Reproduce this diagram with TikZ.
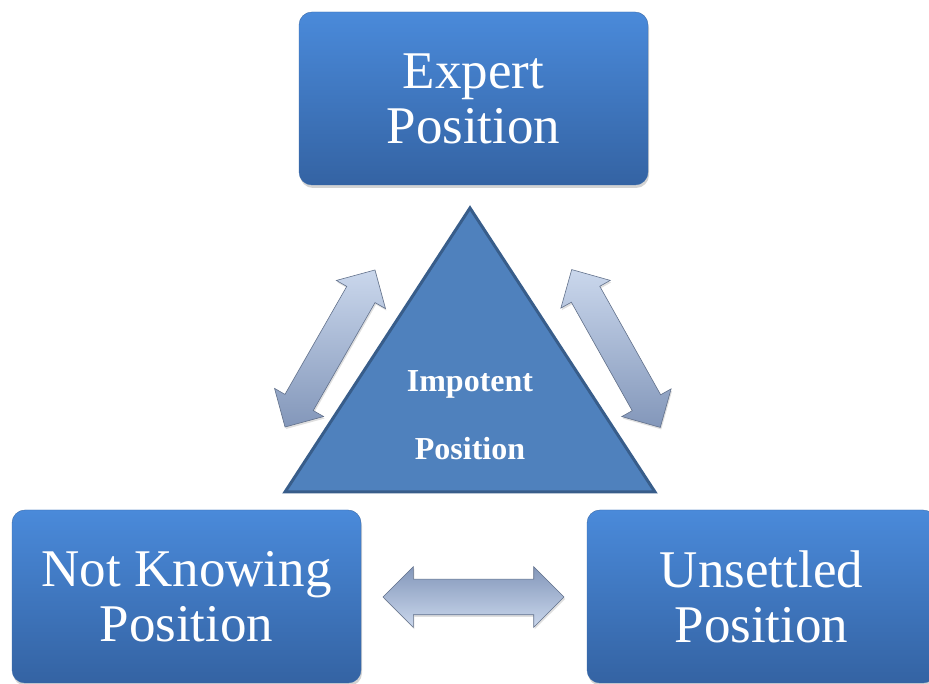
\documentclass[tikz,border=0pt]{standalone}
\usepackage{fontspec}
\setmainfont{Liberation Serif}
\usetikzlibrary{positioning,shapes.arrows,shadows}

\definecolor{boxtop}{HTML}{4A8ADA}
\definecolor{boxbottom}{HTML}{3463A3}
\definecolor{boxedge}{HTML}{3A6AA8}
\definecolor{trifill}{HTML}{4F81BD}
\definecolor{triedge}{HTML}{385D8A}
\definecolor{arrowlight}{HTML}{CAD7EC}
\definecolor{arrowdark}{HTML}{8397BA}

\begin{document}
\begin{tikzpicture}[
    x = 1pt, y = 1pt,
    position/.style = {
        rectangle,
        rounded corners = 13pt,
        minimum width = 349pt,
        minimum height = 173pt,
        inner sep = 0pt,
        top color = boxtop,
        bottom color = boxbottom,
        draw = boxedge,
        thin,
        drop shadow = {shadow xshift = 1pt, shadow yshift = -3pt, opacity = 0.35},
        text = white,
        align = center,
        font = \fontsize{53}{55}\selectfont
        },
    swap/.style = {
        double arrow,
        double arrow head extend = 12.5pt,
        minimum height = 181pt,
        inner xsep = 0pt,
        inner ysep = 17.5pt,
        top color = arrowlight,
        bottom color = arrowdark,
        draw = arrowdark!75!black,
        line width = 0.6pt,
        drop shadow = {shadow xshift = 1pt, shadow yshift = -2pt, opacity = 0.25}
        },
    slantswap/.style = {
        swap,
        double arrow head extend = 12pt,
        inner ysep = 16pt
        }
    ]
    \useasboundingbox (0,0) rectangle (929,684);

    % the three positions
    \node[position] (expert) at (473.5,585.5) {Expert\\Position};
    \node[position] (notknowing) at (186.5,87.5) {Not Knowing\\Position};
    \node[position] (unsettled) at (761.5,87.5) {Unsettled\\Position};

    % triangle in the middle
    \coordinate (apex) at (470,476);
    \coordinate (baseleft) at (285,192);
    \coordinate (baseright) at (655,192);
    \filldraw[fill = trifill, draw = triedge, line width = 3pt]
        (apex) -- (baseleft) -- (baseright) -- cycle;
    \node[text = white, align = center, font = \fontsize{32}{68}\selectfont\bfseries]
        (impotent) at (470,268.5) {Impotent\\Position};

    % block arrows
    \node[slantswap, rotate = 60.2] (leftswap) at (330,335.5) {};
    \node[slantswap, rotate = -60.7] (rightswap) at (616,335.5) {};
    \node[swap, shading angle = 180] (bottomswap) at (473.5,87) {};
\end{tikzpicture}
\end{document}
